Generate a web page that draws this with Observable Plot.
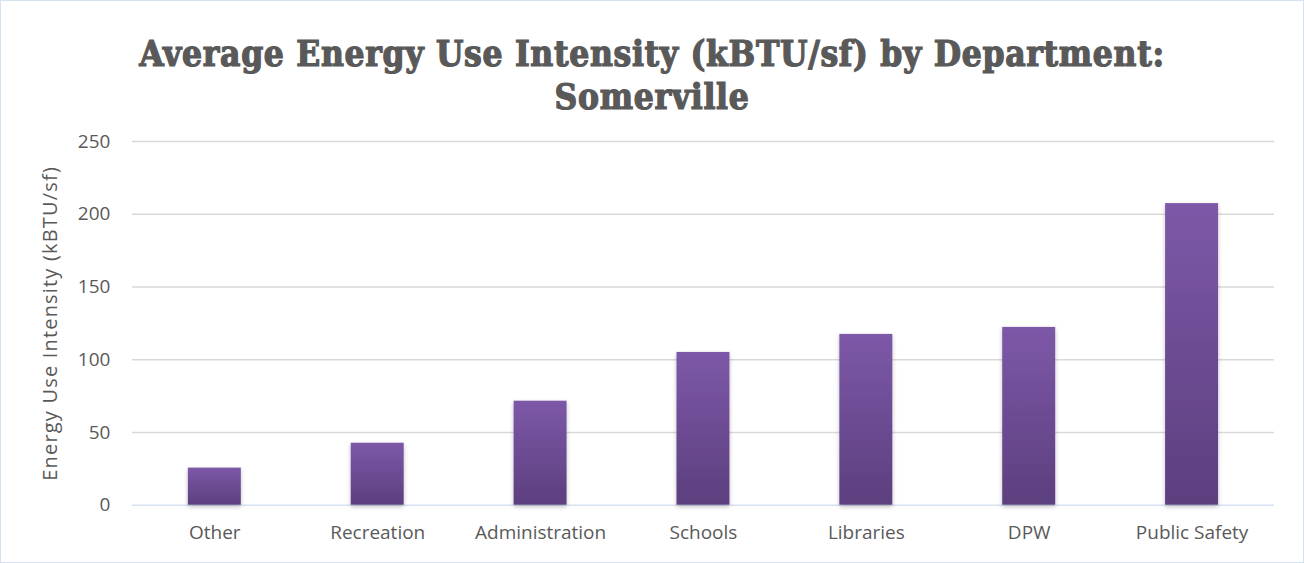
<!DOCTYPE html>
<html><head><meta charset="utf-8">
<script src="https://cdn.jsdelivr.net/npm/d3@7"></script>
<script src="https://cdn.jsdelivr.net/npm/@observablehq/plot@0.6"></script>
<style>
html,body{margin:0;padding:0;background:#fff;}
#wrap{position:relative;width:1304px;height:563px;box-sizing:border-box;border:1px solid #d5e2f2;overflow:hidden;background:#fff;}
#title{position:absolute;left:0;right:0;top:31px;text-align:center;font-family:"DejaVu Serif Condensed","DejaVu Serif",serif;font-weight:bold;font-size:35px;line-height:43px;color:#595959;white-space:nowrap;letter-spacing:0.7px;-webkit-text-stroke:1.2px #595959;}
#chart{position:absolute;left:-1px;top:119px;}
.ylab{letter-spacing:1.2px;}
</style></head><body>
<div id="wrap"><div id="title"></div><div id="chart"></div></div>
<script>
const titleLines = ["Average Energy Use Intensity (kBTU/sf) by Department:", "Somerville"];
const departments = ["Other", "Recreation", "Administration", "Schools", "Libraries", "DPW", "Public Safety"];
const eui = [25.5, 42.6, 71.5, 105, 117.4, 122.2, 207.3];
const yTicks = [0, 50, 100, 150, 200, 250];
const yLabel = "Energy Use Intensity (kBTU/sf)";

const titleEl = document.getElementById("title");
titleLines.forEach((t, i) => {
  const s = document.createElement("div");
  s.textContent = t;
  titleEl.appendChild(s);
});

const data = departments.map((d, i) => ({department: d, value: eui[i]}));
const font = "'Open Sans', Lato, sans-serif";

const plot = Plot.plot({
  width: 1304, height: 443,
  marginTop: 21, marginBottom: 58, marginLeft: 132, marginRight: 29,
  style: {fontFamily: font, fontSize: "19px", color: "#595959", background: "transparent"},
  x: {domain: departments, paddingInner: 0.676, paddingOuter: 0.338, label: null, tickSize: 0, tickPadding: 20},
  y: {domain: [0, 250], ticks: yTicks, label: null, tickSize: 0, tickPadding: 22},
  marks: [
    Plot.ruleY(yTicks.filter(t => t > 0), {stroke: "#d9d9d9", strokeWidth: 1.5}),
    Plot.ruleY([0], {stroke: "#d6e2f1", strokeWidth: 1.5}),
    Plot.barY(data, {x: "department", y: "value", fill: "url(#barGrad)"}),
    Plot.text([yLabel], {text: d => d, frameAnchor: "left", textAnchor: "middle", rotate: -90, dx: -82, fontSize: 20, fill: "#595959", fontFamily: font})
  ]
});

const ns = "http://www.w3.org/2000/svg";
const defs = document.createElementNS(ns, "defs");
defs.innerHTML = `<linearGradient id="barGrad" x1="0" y1="0" x2="0" y2="1">
  <stop offset="0" stop-color="#7d58a8"/><stop offset="1" stop-color="#5c3f7e"/></linearGradient>
  <filter id="barShadow" x="-20%" y="-5%" width="140%" height="115%">
  <feDropShadow dx="0" dy="2" stdDeviation="2" flood-color="#000" flood-opacity="0.25"/></filter>`;
plot.prepend(defs);
plot.querySelectorAll('[fill="url(#barGrad)"]').forEach(g => g.setAttribute("filter", "url(#barShadow)"));
plot.querySelectorAll("text").forEach(t => { if (t.textContent === yLabel) t.setAttribute("class", "ylab"); });
document.getElementById("chart").appendChild(plot);
</script>
</body></html>
